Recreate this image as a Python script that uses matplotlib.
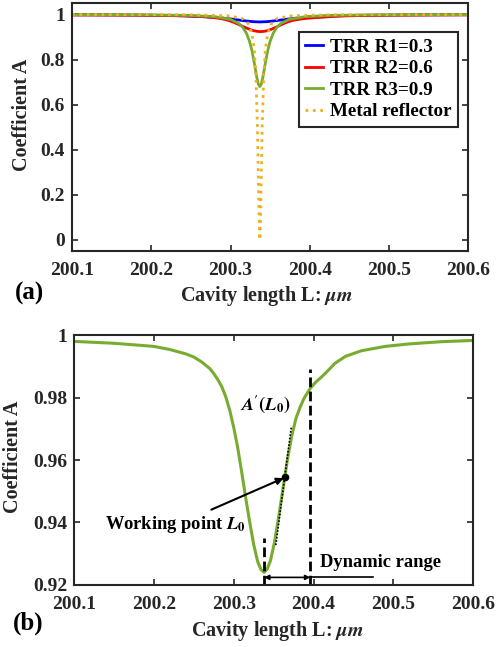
import numpy as np
import matplotlib
matplotlib.use('Agg')
import matplotlib.pyplot as plt

plt.rcParams['font.family'] = ['Liberation Serif', 'DejaVu Serif']
plt.rcParams['font.weight'] = 'bold'
plt.rcParams['mathtext.fontset'] = 'stix'

# TRR R2 curve (also shown alone in panel b), cavity length in um
L = [200.100, 200.150, 200.200, 200.220, 200.240, 200.250, 200.260, 200.270, 200.275,
     200.280, 200.285, 200.290, 200.295, 200.300, 200.305, 200.310, 200.315, 200.320,
     200.325, 200.330, 200.334, 200.338, 200.342, 200.346, 200.351, 200.356, 200.361,
     200.364, 200.368, 200.373, 200.378, 200.383, 200.388, 200.396, 200.403, 200.410,
     200.418, 200.427, 200.440, 200.460, 200.490, 200.520, 200.560, 200.600]
A_r2 = [0.9980, 0.9974, 0.9964, 0.9954, 0.9940, 0.9930, 0.9914, 0.9893, 0.9877,
        0.9858, 0.9835, 0.9803, 0.9760, 0.9705, 0.9640, 0.9562, 0.9480, 0.9402,
        0.9330, 0.9275, 0.9250, 0.9240, 0.9251, 0.9277, 0.9335, 0.9412, 0.9495,
        0.9546, 0.9612, 0.9680, 0.9733, 0.9768, 0.9797, 0.9830, 0.9850, 0.9866,
        0.9886, 0.9910, 0.9932, 0.9950, 0.9964, 0.9972, 0.9979, 0.9983]

L_r1 = [200.10, 200.12, 200.15, 200.18, 200.20, 200.22, 200.24, 200.26, 200.28, 200.29,
        200.30, 200.31, 200.32, 200.33, 200.337, 200.345, 200.35, 200.36, 200.37, 200.38,
        200.39, 200.40, 200.42, 200.45, 200.47, 200.50, 200.55, 200.60]
A_r1 = [0.9989, 0.9986, 0.9982, 0.9975, 0.9968, 0.9957, 0.9942, 0.9916, 0.9873, 0.9842,
        0.9803, 0.9757, 0.9711, 0.9678, 0.9670, 0.9680, 0.9695, 0.9738, 0.9785, 0.9828,
        0.9862, 0.9889, 0.9925, 0.9955, 0.9966, 0.9977, 0.9986, 0.9991]

L_r3 = [200.10, 200.20, 200.25, 200.28, 200.30, 200.31, 200.315, 200.32, 200.324, 200.327,
        200.33, 200.333, 200.335, 200.337, 200.339, 200.341, 200.344, 200.347, 200.35,
        200.354, 200.359, 200.364, 200.374, 200.394, 200.424, 200.474, 200.60]
A_r3 = [0.9994, 0.9983, 0.9958, 0.9904, 0.9782, 0.9614, 0.9452, 0.9177, 0.881, 0.84,
        0.7852, 0.7241, 0.6923, 0.68, 0.6923, 0.7241, 0.7852, 0.84, 0.881,
        0.9177, 0.9452, 0.9614, 0.9782, 0.9904, 0.9958, 0.9983, 0.9995]

L_metal = [200.10, 200.25, 200.30, 200.315, 200.322, 200.327, 200.330, 200.332, 200.334,
           200.335, 200.336, 200.337, 200.338, 200.339, 200.340, 200.342, 200.344, 200.347,
           200.352, 200.359, 200.374, 200.424, 200.60]
A_metal = [0.9998, 0.9988, 0.9935, 0.9817, 0.9615, 0.9174, 0.845, 0.7353, 0.5,
           0.3077, 0.1, 0.0, 0.1, 0.3077, 0.5, 0.7353, 0.845, 0.9174,
           0.9615, 0.9817, 0.9935, 0.9988, 0.9999]

labels = ['TRR R1=0.3', 'TRR R2=0.6', 'TRR R3=0.9', 'Metal reflector']
xticks = [200.1, 200.2, 200.3, 200.4, 200.5, 200.6]
work_L = 200.364      # working point L0
range_end = 200.396   # end of dynamic range
tangent_slope = 1.95  # drawn slope of A'(L0)

green = '#77AC30'
fs = 14.5
tfs = 14
dark = '#262626'

fig = plt.figure(figsize=(4.97, 6.47), dpi=100)
ax1 = fig.add_axes([0.145, 0.612, 0.797, 0.383])
ax2 = fig.add_axes([0.149, 0.096, 0.803, 0.386])


def style(ax):
    ax.set_xlim(200.1, 200.6)
    ax.set_xticks(xticks)
    ax.tick_params(direction='in', top=True, right=True, length=4, width=1.2,
                   labelsize=tfs, colors=dark)
    ax.tick_params(axis='x', pad=8)
    ax.tick_params(axis='y', pad=5)
    for s in ax.spines.values():
        s.set_linewidth(1.5)
        s.set_color(dark)
    for t in ax.get_xticklabels() + ax.get_yticklabels():
        t.set_fontweight('bold')


# panel (a)
ax1.plot(L_r1, A_r1, color='#0000FF', lw=2, label=labels[0])
ax1.plot(L, A_r2, color='#FF0000', lw=2, label=labels[1])
ax1.plot(L_r3, A_r3, color=green, lw=2, label=labels[2])
ax1.plot(L_metal, A_metal, color='#EDB120', lw=2, ls=':', label=labels[3])
ax1.set_ylim(-0.05, 1.05)
ax1.set_yticks([0, 0.2, 0.4, 0.6, 0.8, 1])
ax1.set_yticklabels(['0', '0.2', '0.4', '0.6', '0.8', '1'])
style(ax1)
ax1.set_ylabel('Coefficient A', fontsize=fs, fontweight='bold', color=dark)
ax1.yaxis.set_label_coords(-0.101, 0.548)
ax1.set_xlabel(r'Cavity length L: $\mu m$', fontsize=fs, fontweight='bold', color=dark)
ax1.xaxis.set_label_coords(0.49, -0.133)
leg = ax1.legend(loc='upper right', bbox_to_anchor=(0.975, 0.885),
                 prop={'weight': 'bold', 'size': 13.7}, handlelength=0.95, handletextpad=0.35,
                 labelspacing=0.22, borderpad=0.35, borderaxespad=0, fancybox=False,
                 framealpha=1)
leg.get_frame().set_edgecolor(dark)
leg.get_frame().set_linewidth(1.5)

# panel (b)
ax2.plot(L, A_r2, color=green, lw=2.2)
ax2.set_ylim(0.92, 1.0)
ax2.set_yticks([0.92, 0.94, 0.96, 0.98, 1.0])
ax2.set_yticklabels(['0.92', '0.94', '0.96', '0.98', '1'])
style(ax2)
ax2.set_ylabel('Coefficient A', fontsize=fs, fontweight='bold', color=dark)
ax2.yaxis.set_label_coords(-0.128, 0.512)
ax2.set_xlabel(r'Cavity length L: $\mu m$', fontsize=fs, fontweight='bold', color=dark)
ax2.xaxis.set_label_coords(0.51, -0.136)

i_min = int(np.argmin(A_r2))
L_min = L[i_min]
i_w = L.index(work_L)
A_w = A_r2[i_w]
i_end = L.index(range_end)

dash = (0, (3.5, 1.6))
ax2.plot([L_min, L_min], [0.92, 0.935], color='k', lw=2, ls=dash)
ax2.plot([L[i_end], L[i_end]], [0.92, 0.989], color='k', lw=2, ls=dash)
tx = np.array([work_L - 0.0112, work_L + 0.0082])
ax2.plot(tx, A_w + tangent_slope * (tx - work_L), color='k', lw=1.2, ls=(0, (1, 1)))
ax2.plot([work_L], [A_w], 'o', color='k', ms=4.5)
ax2.annotate('', xy=(work_L - 0.0015, A_w - 0.0004), xytext=(200.272, 0.9441),
             arrowprops=dict(arrowstyle='-|>', color='k', lw=1.5, mutation_scale=10,
                             shrinkA=0, shrinkB=0))
ax2.text(200.139, 0.9393, r'Working point $\mathbfit{L}_\mathbf{0}$', fontsize=13.3,
         fontweight='bold', va='center', ha='left')
ax2.text(200.3085, 0.9778, r"$\mathbfit{A}^{\prime}\mathbf{(}\mathbfit{L}_\mathbf{0}\mathbf{)}$",
         fontsize=13.3, va='center', ha='left')
ax2.annotate('', xy=(L_min, 0.9224), xytext=(L[i_end], 0.9224),
             arrowprops=dict(arrowstyle='<|-|>', color='k', lw=1.2, mutation_scale=7,
                             shrinkA=0, shrinkB=0))
ax2.plot([L[i_end], 200.475], [0.9224, 0.9224], color='k', lw=1.2)
ax2.text(200.408, 0.9273, 'Dynamic range', fontsize=13.3, fontweight='bold',
         va='center', ha='left')

fig.text(0.06, 0.547, '(a)', fontsize=18, fontweight='bold', ha='center', va='center')
fig.text(0.057, 0.036, '(b)', fontsize=18, fontweight='bold', ha='center', va='center')

fig.savefig('out.png', dpi=100)
